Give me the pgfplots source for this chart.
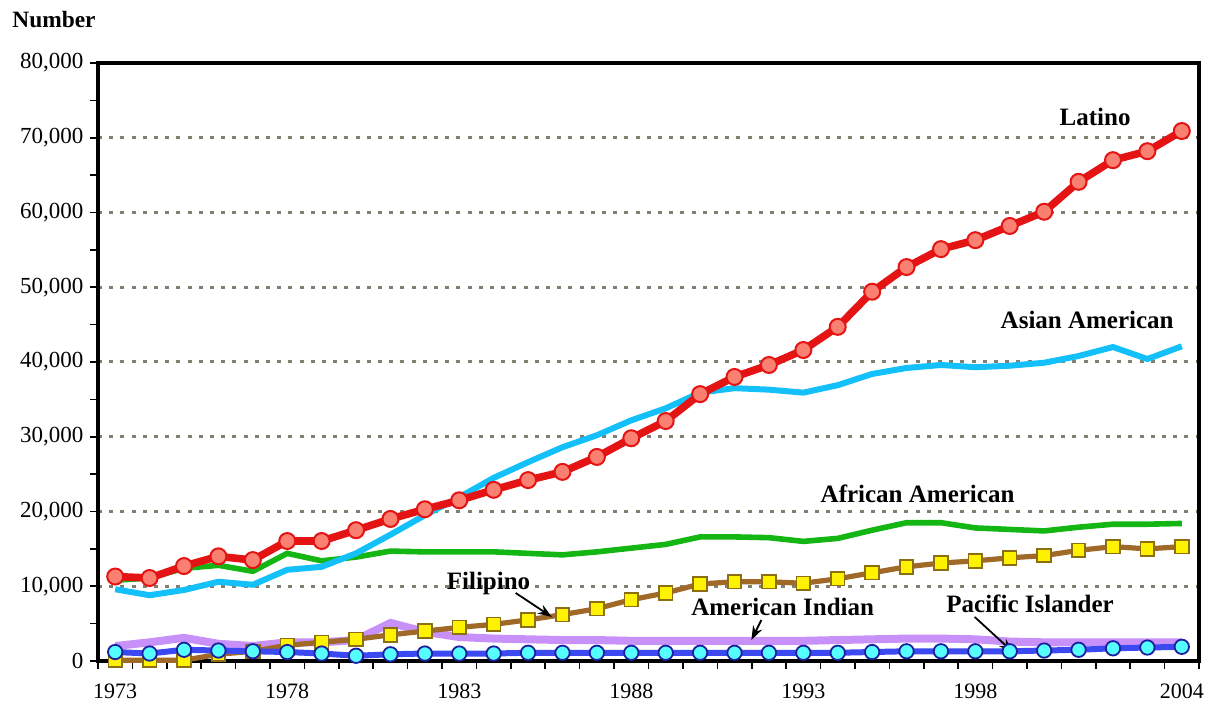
\documentclass[border=0pt]{standalone}
\usepackage{pgfplots}
\pgfplotsset{compat=1.18}
\usepackage{fontspec}
\setmainfont{Liberation Serif}
\usetikzlibrary{arrows.meta}
\definecolor{latred}{RGB}{228,20,20}
\definecolor{latfill}{RGB}{250,128,114}
\definecolor{asblue}{RGB}{20,192,250}
\definecolor{afgreen}{RGB}{20,182,20}
\definecolor{filbrown}{RGB}{160,105,40}
\definecolor{filedge}{RGB}{140,110,20}
\definecolor{amlav}{RGB}{200,145,250}
\definecolor{piblue}{RGB}{60,72,240}
\definecolor{picyan}{RGB}{85,255,255}
\definecolor{piedge}{RGB}{30,30,160}
\definecolor{gridgray}{RGB}{128,128,112}
\begin{document}
\begin{tikzpicture}
\path[use as bounding box] (-49pt,-25pt) rectangle (558.5pt,330.5pt);
\begin{axis}[
  scale only axis,
  width=550.5pt, height=299pt,
  xmin=1972.5, xmax=2004.5,
  ymin=0, ymax=80000,
  axis line style={line width=2pt},
  xtick={1973,1978,1983,1988,1993,1998,2004},
  minor xtick={1972.5,1973.5,...,2004.5},
  major x tick style={draw=none},
  minor x tick style={black, line width=0.8pt},
  xtick pos=bottom, ytick pos=left,
  tick align=outside,
  minor tick length=3.8pt,
  ytick={0,10000,...,80000},
  minor ytick={5000,15000,...,75000},
  major tick length=3.8pt,
  y tick style={black, line width=0.8pt},
  xticklabel style={/pgf/number format/1000 sep=, font=\fontsize{11}{13}\selectfont, yshift=-4pt},
  yticklabel style={/pgf/number format/1000 sep={,}, font=\fontsize{11.5}{13}\selectfont},
  /pgf/number format/assume math mode=true,
  scaled y ticks=false,
  ymajorgrids,
  major grid style={gridgray, line width=1.5pt, dash pattern=on 2pt off 3.6pt},
  clip=false,
]
% American Indian
\addplot[amlav, line width=4pt] coordinates {
(1973,2000)(1974,2500)(1975,3100)(1976,2300)(1977,2000)(1978,2500)(1979,2500)(1980,2800)
(1981,5100)(1982,3900)(1983,3200)(1984,3000)(1985,2900)(1986,2800)(1987,2800)(1988,2700)
(1989,2700)(1990,2700)(1991,2700)(1992,2700)(1993,2700)(1994,2800)(1995,2900)(1996,3000)
(1997,3000)(1998,2900)(1999,2600)(2000,2500)(2001,2500)(2002,2500)(2003,2500)(2004,2500)};
% Filipino
\addplot[filbrown, line width=2.6pt, mark=square*, mark size=3.4pt,
  mark options={fill=yellow, draw=filedge, line width=0.9pt}] coordinates {
(1973,100)(1974,100)(1975,100)(1976,900)(1977,1300)(1978,2100)(1979,2500)(1980,2900)
(1981,3500)(1982,4000)(1983,4500)(1984,4900)(1985,5500)(1986,6200)(1987,7000)(1988,8200)
(1989,9100)(1990,10300)(1991,10600)(1992,10600)(1993,10400)(1994,11000)(1995,11800)(1996,12600)
(1997,13100)(1998,13400)(1999,13800)(2000,14100)(2001,14800)(2002,15300)(2003,15000)(2004,15300)};
% Pacific Islander
\addplot[piblue, line width=3pt, mark=*, mark size=3.6pt,
  mark options={fill=picyan, draw=piedge, line width=0.9pt}] coordinates {
(1973,1200)(1974,1000)(1975,1500)(1976,1400)(1977,1300)(1978,1200)(1979,1000)(1980,700)
(1981,900)(1982,1000)(1983,1000)(1984,1000)(1985,1100)(1986,1100)(1987,1100)(1988,1100)
(1989,1100)(1990,1100)(1991,1100)(1992,1100)(1993,1100)(1994,1100)(1995,1200)(1996,1300)
(1997,1300)(1998,1300)(1999,1300)(2000,1400)(2001,1500)(2002,1700)(2003,1800)(2004,1900)};
% African American
\addplot[afgreen, line width=2.8pt] coordinates {
(1973,10800)(1974,11100)(1975,12400)(1976,12800)(1977,12000)(1978,14400)(1979,13400)(1980,13900)
(1981,14700)(1982,14600)(1983,14600)(1984,14600)(1985,14400)(1986,14200)(1987,14600)(1988,15100)
(1989,15600)(1990,16600)(1991,16600)(1992,16500)(1993,16000)(1994,16400)(1995,17500)(1996,18500)
(1997,18500)(1998,17800)(1999,17600)(2000,17400)(2001,17900)(2002,18300)(2003,18300)(2004,18400)};
% Asian American
\addplot[asblue, line width=3pt] coordinates {
(1973,9600)(1974,8800)(1975,9500)(1976,10600)(1977,10200)(1978,12200)(1979,12600)(1980,14400)
(1981,16900)(1982,19500)(1983,21900)(1984,24500)(1985,26600)(1986,28600)(1987,30200)(1988,32200)
(1989,33800)(1990,35900)(1991,36500)(1992,36300)(1993,35900)(1994,36900)(1995,38400)(1996,39200)
(1997,39600)(1998,39300)(1999,39500)(2000,39900)(2001,40800)(2002,42000)(2003,40400)(2004,42100)};
% Latino
\addplot[latred, line width=3.8pt, mark=*, mark size=4pt,
  mark options={fill=latfill, draw=latred, line width=1pt}] coordinates {
(1973,11300)(1974,11100)(1975,12700)(1976,14000)(1977,13500)(1978,16050)(1979,16050)(1980,17500)
(1981,19000)(1982,20300)(1983,21500)(1984,22900)(1985,24200)(1986,25300)(1987,27300)(1988,29800)
(1989,32100)(1990,35700)(1991,38000)(1992,39600)(1993,41600)(1994,44700)(1995,49400)(1996,52700)
(1997,55100)(1998,56300)(1999,58200)(2000,60100)(2001,64100)(2002,67000)(2003,68200)(2004,70900)};
% labels
\begin{scope}[every node/.style={font=\fontsize{12.5}{14}\selectfont\bfseries}]
\node at (axis cs:2001.48,72780) {Latino};
\node at (axis cs:2001.25,45620) {Asian American};
\node at (axis cs:1996.32,22340) {African American};
\node at (axis cs:1983.85,10430) {Filipino};
\node at (axis cs:1992.4,7220) {American Indian};
\node at (axis cs:1999.59,7620) {Pacific Islander};
\end{scope}
\draw[-{Stealth[length=7pt,width=5pt]}, line width=0.9pt] (axis cs:1984.64,9100) -- (axis cs:1985.69,5890);
\draw[-{Stealth[length=7pt,width=5pt]}, line width=0.9pt] (axis cs:1991.78,5480) -- (axis cs:1991.49,2810);
\draw[-{Stealth[length=7pt,width=5pt]}, line width=0.9pt] (axis cs:1997.98,5890) -- (axis cs:1999.09,1200);
\end{axis}
\node[anchor=west, font=\fontsize{11.7}{13}\selectfont\bfseries, inner sep=0pt] at (-43pt,320.5pt) {Number};
\end{tikzpicture}
\end{document}
